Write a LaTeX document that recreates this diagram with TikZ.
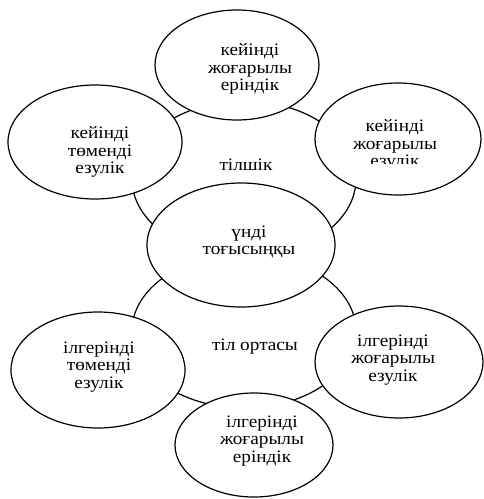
\documentclass[tikz,border=0pt]{standalone}
\usepackage{fontspec}
\setmainfont{Liberation Serif}[FakeStretch=1.1]
\usetikzlibrary{shapes.geometric}
\begin{document}
\begin{tikzpicture}[x=1pt,y=-1pt,
  ring/.style={draw, line width=1.2pt, ellipse, inner sep=0pt},
  oval/.style={draw, fill=white, line width=1.2pt, ellipse, inner sep=0pt},
  lbl/.style={align=center, font=\fontsize{17.5}{17.5}\selectfont, inner sep=0pt}]
\useasboundingbox (0,0) rectangle (483,499);
% background rings
\node[ring, minimum width=224pt, minimum height=156pt] (rtop) at (244,179) {};
\node[ring, minimum width=224pt, minimum height=154pt] (rbot) at (244,331) {};
\node[lbl] (ltop) at (246,165) {тілшік};
\node[lbl] (lbot) at (255,347) {тіл ортасы};
% ovals
\node[oval, minimum width=164pt, minimum height=110pt] (etop) at (237,65) {};
\node[oval, minimum width=174pt, minimum height=114pt] (eleft) at (95,142) {};
\node[oval, minimum width=166pt, minimum height=112pt] (eright) at (398,139) {};
\node[oval, minimum width=188pt, minimum height=124pt] (ecen) at (241,245) {};
\node[oval, minimum width=174pt, minimum height=116pt] (ebl) at (98,370) {};
\node[oval, minimum width=168pt, minimum height=112pt] (ebr) at (399,362) {};
\node[oval, minimum width=158pt, minimum height=104pt] (ebot) at (254,445) {};
% texts
\node[lbl] (ttop) at (250,69) {кейінді\\жоғарылы\\еріндік};
\node[lbl] (tleft) at (100,152) {кейінді\\төменді\\езулік};
\begin{scope}
\clip (300,60) rectangle (483,163);
\node[lbl] (tright) at (395,145) {кейінді\\жоғарылы\\езулік};
\end{scope}
\node[lbl] (tcen) at (249,242) {үнді\\тоғысыңқы};
\node[lbl] (tbl) at (99,367) {ілгерінді\\төменді\\езулік};
\node[lbl] (tbr) at (393,360) {ілгерінді\\жоғарылы\\езулік};
\node[lbl] (tbot) at (262,441) {ілгерінді\\жоғарылы\\еріндік};
\end{tikzpicture}
\end{document}
